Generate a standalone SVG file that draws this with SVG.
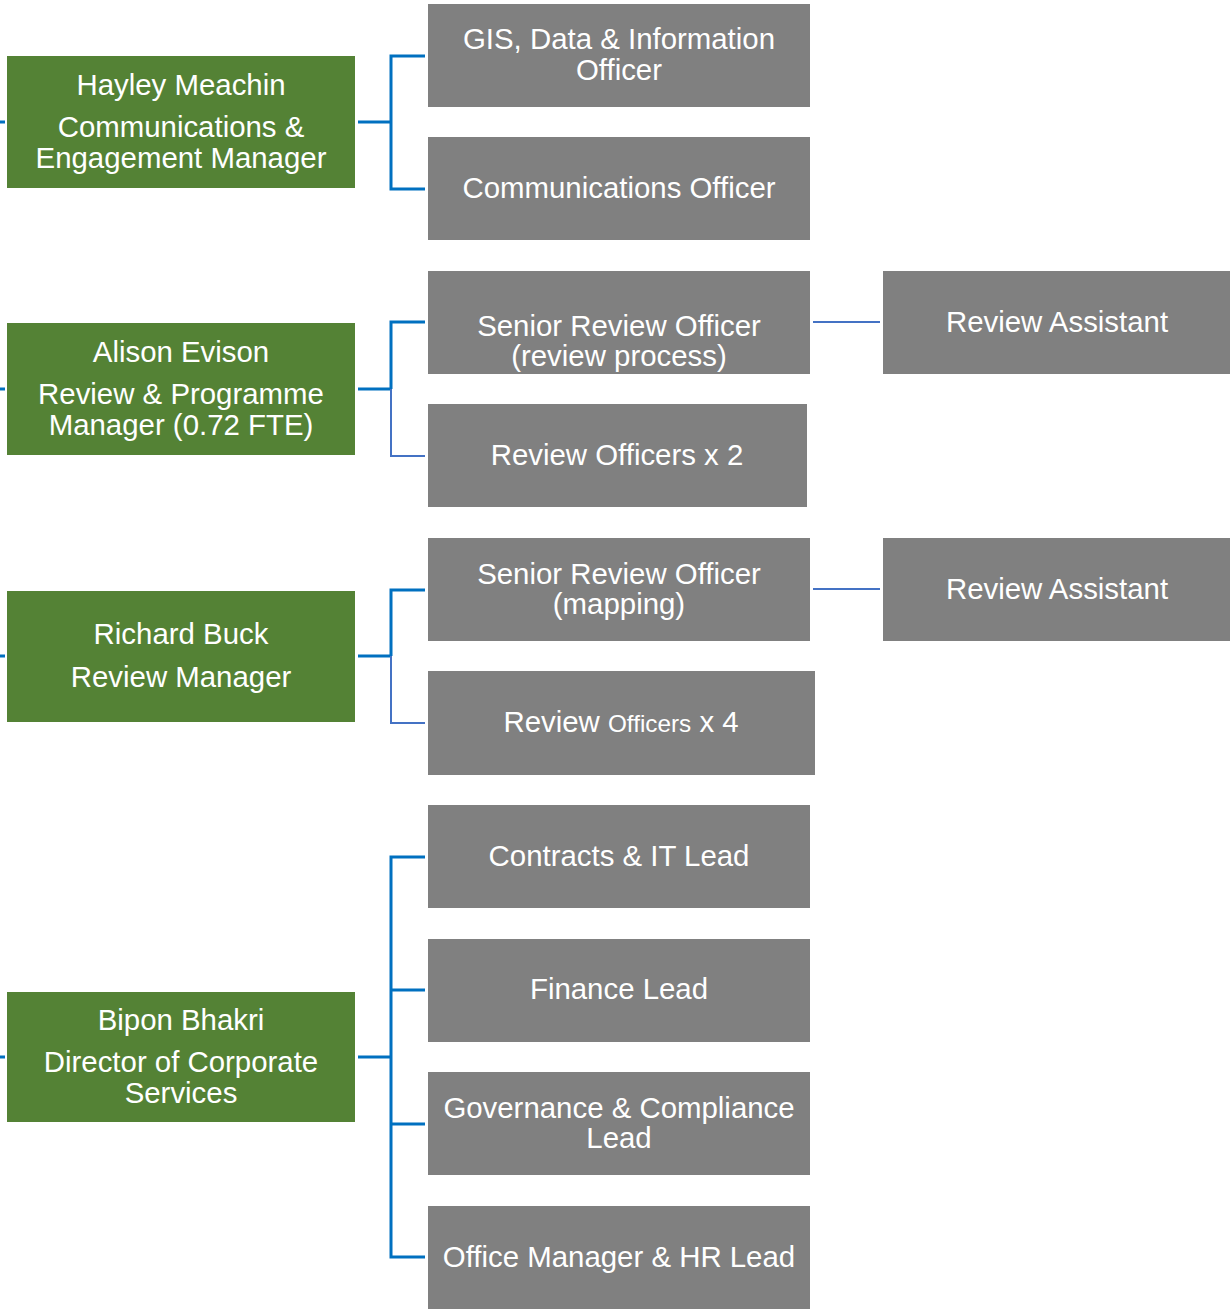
<svg xmlns="http://www.w3.org/2000/svg" width="1230" height="1312" viewBox="0 0 1230 1312">
<style>
.mgr{fill:#548235}
.role{fill:#808080}
text{font-family:"Liberation Sans",Arial,sans-serif;font-size:29.4px;fill:#ffffff;text-anchor:middle}
.thick{stroke:#0070C0;stroke-width:3;fill:none}
.thin{stroke:#4472C4;stroke-width:2;fill:none}
</style>
<rect width="1230" height="1312" fill="#ffffff"/>
<g id="connectors">
  <path class="thick" d="M0 122H5M0 389H5M0 656H5M0 1057H5"/>
  <path class="thick" d="M358 122H391M425 56H391V189H425"/>
  <path class="thick" d="M358 389H391M425 322H391V389"/>
  <path class="thin" d="M391 389V456H425"/>
  <path class="thin" d="M813 322H880"/>
  <path class="thick" d="M358 656H391M425 590H391V656"/>
  <path class="thin" d="M391 656V723H425"/>
  <path class="thin" d="M813 589H880"/>
  <path class="thick" d="M358 1057H391M425 857H391V1257H425M391 990H425M391 1124H425"/>
</g>
<g id="hayley">
  <rect class="mgr" x="7" y="56" width="348" height="132"/>
  <text x="181" y="95">Hayley Meachin</text>
  <text x="181" y="137">Communications &amp;</text>
  <text x="181" y="168">Engagement Manager</text>
</g>
<g id="alison">
  <rect class="mgr" x="7" y="323" width="348" height="132"/>
  <text x="181" y="362">Alison Evison</text>
  <text x="181" y="404">Review &amp; Programme</text>
  <text x="181" y="435">Manager (0.72 FTE)</text>
</g>
<g id="richard">
  <rect class="mgr" x="7" y="591" width="348" height="131"/>
  <text x="181" y="644">Richard Buck</text>
  <text x="181" y="687">Review Manager</text>
</g>
<g id="bipon">
  <rect class="mgr" x="7" y="992" width="348" height="130"/>
  <text x="181" y="1030">Bipon Bhakri</text>
  <text x="181" y="1072">Director of Corporate</text>
  <text x="181" y="1103">Services</text>
</g>
<g id="gis">
  <rect class="role" x="428" y="4" width="382" height="103"/>
  <text x="619" y="49">GIS, Data &amp; Information</text>
  <text x="619" y="80">Officer</text>
</g>
<g id="comms">
  <rect class="role" x="428" y="137" width="382" height="103"/>
  <text x="619" y="198">Communications Officer</text>
</g>
<g id="sro-review">
  <rect class="role" x="428" y="271" width="382" height="103"/>
  <text x="619" y="336">Senior Review Officer</text>
  <text x="619" y="366">(review process)</text>
</g>
<g id="ra-1">
  <rect class="role" x="883" y="271" width="347" height="103"/>
  <text x="1057" y="332">Review Assistant</text>
</g>
<g id="ro-2">
  <rect class="role" x="428" y="404" width="379" height="103"/>
  <text x="617" y="465">Review Officers x 2</text>
</g>
<g id="sro-mapping">
  <rect class="role" x="428" y="538" width="382" height="103"/>
  <text x="619" y="584">Senior Review Officer</text>
  <text x="619" y="614">(mapping)</text>
</g>
<g id="ra-2">
  <rect class="role" x="883" y="538" width="347" height="103"/>
  <text x="1057" y="599">Review Assistant</text>
</g>
<g id="ro-4">
  <rect class="role" x="428" y="671" width="387" height="104"/>
  <text x="621" y="732">Review <tspan font-size="24.3">Officers</tspan> x 4</text>
</g>
<g id="contracts">
  <rect class="role" x="428" y="805" width="382" height="103"/>
  <text x="619" y="866">Contracts &amp; IT Lead</text>
</g>
<g id="finance">
  <rect class="role" x="428" y="939" width="382" height="103"/>
  <text x="619" y="999">Finance Lead</text>
</g>
<g id="governance">
  <rect class="role" x="428" y="1072" width="382" height="103"/>
  <text x="619" y="1118">Governance &amp; Compliance</text>
  <text x="619" y="1148">Lead</text>
</g>
<g id="office">
  <rect class="role" x="428" y="1206" width="382" height="103"/>
  <text x="619" y="1267">Office Manager &amp; HR Lead</text>
</g>
</svg>
